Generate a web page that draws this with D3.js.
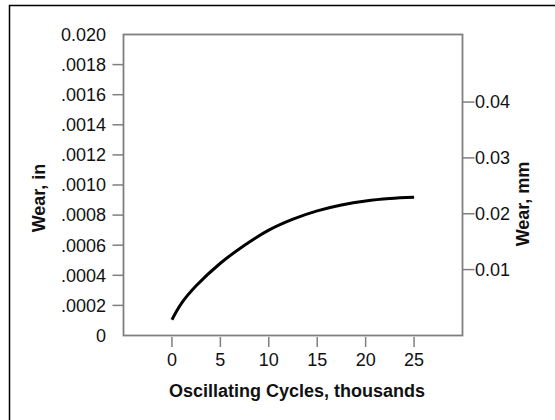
<!DOCTYPE html>
<html><head><meta charset="utf-8">
<script src="https://cdn.jsdelivr.net/npm/d3@7"></script>
<style>body{margin:0;background:#fff}svg{display:block}text{font-family:"Liberation Sans",Arial,sans-serif}</style>
</head><body><svg id="c" width="555" height="420"></svg>
<script>
// Data
const cyclesK = [0, 1, 2.5, 5, 7.5, 10, 12.5, 15, 17.5, 20, 22.5, 25];
const wearIn  = [0.000105, 0.000215, 0.00033, 0.00048, 0.0006, 0.0007, 0.000773, 0.000828, 0.000867, 0.000894, 0.00091, 0.000918];
const xTicks = [0, 5, 10, 15, 20, 25];
const yTicksIn = [0, 0.0002, 0.0004, 0.0006, 0.0008, 0.0010, 0.0012, 0.0014, 0.0016, 0.0018, 0.0020];
const yTickLabelsIn = ["0", ".0002", ".0004", ".0006", ".0008", ".0010", ".0012", ".0014", ".0016", ".0018", "0.020"];
const yTicksMm = [0.01, 0.02, 0.03, 0.04];
const yTickLabelsMm = ["0.01", "0.02", "0.03", "0.04"];
const xDomain = [-5, 30];
const yDomainIn = [0, 0.002];
const yDomainMm = [-0.0018, 0.0521];

const svg = d3.select("#c");
const L = 123.5, R = 462.5, T = 34.5, B = 335.5;
const x = d3.scaleLinear().domain(xDomain).range([L, R]);
const y = d3.scaleLinear().domain(yDomainIn).range([B, T]);
const y2 = d3.scaleLinear().domain(yDomainMm).range([B, T]);
const FS = 18, TFS = 18;

// outer border
svg.append("rect").attr("x", 9.5).attr("y", 5.5).attr("width", 700).attr("height", 600)
  .attr("fill", "none").attr("stroke", "#000").attr("stroke-width", 1.5);

const gray = "#7f7f7f";
// frame
svg.append("rect").attr("x", L).attr("y", T).attr("width", R - L).attr("height", B - T)
  .attr("fill", "none").attr("stroke", gray).attr("stroke-width", 1.8);

// left axis
const gl = svg.append("g");
yTicksIn.forEach((v, i) => {
  const yy = y(v);
  if (i > 0 && i < yTicksIn.length - 1) {
    gl.append("line").attr("x1", L - 11).attr("x2", L).attr("y1", yy).attr("y2", yy)
      .attr("stroke", gray).attr("stroke-width", 1.5);
  }
  gl.append("text").attr("x", 106).attr("y", yy).attr("dy", "0.35em")
    .attr("text-anchor", "end").attr("font-size", FS).attr("fill", "#111").text(yTickLabelsIn[i]);
});

// right axis
const gr = svg.append("g");
yTicksMm.forEach((v, i) => {
  const yy = y2(v);
  gr.append("line").attr("x1", R).attr("x2", R + 12).attr("y1", yy).attr("y2", yy)
    .attr("stroke", gray).attr("stroke-width", 1.5);
  gr.append("text").attr("x", R + 12.5).attr("y", yy).attr("dy", "0.35em")
    .attr("text-anchor", "start").attr("font-size", FS).attr("fill", "#111").text(yTickLabelsMm[i]);
});

// bottom axis
const gb = svg.append("g");
xTicks.forEach(v => {
  const xx = x(v);
  gb.append("line").attr("x1", xx).attr("x2", xx).attr("y1", B + 1.5).attr("y2", B + 11.5)
    .attr("stroke", gray).attr("stroke-width", 1.5);
  gb.append("text").attr("x", xx).attr("y", 366).attr("text-anchor", "middle")
    .attr("font-size", FS).attr("fill", "#111").text(v);
});

// curve
const line = d3.line().x((d, i) => x(cyclesK[i])).y(d => y(d)).curve(d3.curveCatmullRom.alpha(0.5));
svg.append("path").datum(wearIn).attr("d", line).attr("fill", "none")
  .attr("stroke", "#000").attr("stroke-width", 3);

// titles
svg.append("text").attr("x", 297).attr("y", 397).attr("text-anchor", "middle")
  .attr("font-size", TFS).attr("font-weight", "bold").attr("fill", "#111").text("Oscillating Cycles, thousands");
svg.append("text").attr("transform", "translate(45,198) rotate(-90)").attr("text-anchor", "middle")
  .attr("font-size", TFS).attr("font-weight", "bold").attr("fill", "#111").text("Wear, in");
svg.append("text").attr("transform", "translate(529,204) rotate(-90)").attr("text-anchor", "middle")
  .attr("font-size", TFS).attr("font-weight", "bold").attr("fill", "#111").text("Wear, mm");
</script></body></html>
